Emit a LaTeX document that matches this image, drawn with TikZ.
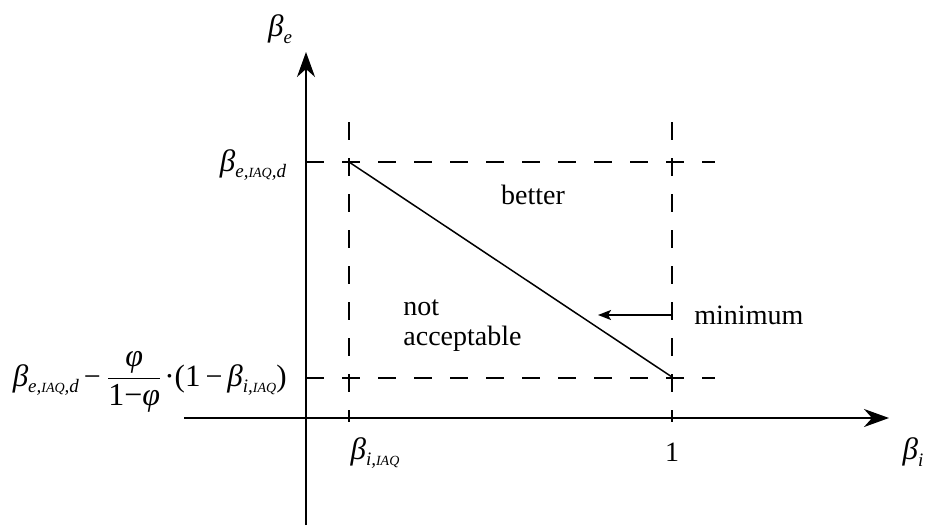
\documentclass[tikz,border=0pt]{standalone}
\usepackage{fontspec}
\setmainfont{Liberation Serif}
\usepackage{amsmath}
\usetikzlibrary{arrows.meta}
\newcommand\gB{\mbox{\fontsize{15.5}{18}\selectfont\itshape β}}
\newcommand\gP{\mbox{\fontsize{16}{18}\selectfont\itshape φ}}
\newcommand\iaqs{{\fontsize{7}{8}\selectfont IAQ}}
\newcommand\subt[1]{\raisebox{-0.5ex}{\fontsize{9.5}{10}\selectfont\itshape #1}}
\newcommand\mn{\mbox{\fontsize{15}{18}\selectfont\hspace{2.5pt}−\hspace{2.5pt}}}
\begin{document}
\begin{tikzpicture}[x=0.5pt,y=-0.5pt,
  every node/.style={font=\fontsize{14}{16}\selectfont, inner sep=0pt},
  axis/.style={line width=1pt,-{Stealth[length=12.5pt,width=9pt,inset=4pt]}},
  guide/.style={line width=1pt,dash pattern=on 9pt off 9pt},
  bound/.style={line width=0.75pt},
  pointer/.style={line width=1pt,-{Stealth[length=6.5pt,width=5pt,inset=1.5pt]}}]
\useasboundingbox (0,0) rectangle (926,525);
% axes
\coordinate (ybot) at (306,525);
\coordinate (ytop) at (306,52);
\coordinate (xleft) at (184,418);
\coordinate (xright) at (889,418);
\draw[axis] (ybot) -- (ytop);
\draw[axis] (xleft) -- (xright);
% guides
\coordinate (v1t) at (349,122); \coordinate (v1b) at (349,422);
\coordinate (v2t) at (672,122); \coordinate (v2b) at (672,422);
\coordinate (h1l) at (306,162); \coordinate (h1r) at (715,162);
\coordinate (h2l) at (306,378); \coordinate (h2r) at (715,378);
\draw[guide] (v1t) -- (v1b);
\draw[guide] (v2t) -- (v2b);
\draw[guide] (h1l) -- (h1r);
\draw[guide] (h2l) -- (h2r);
% boundary line
\coordinate (pA) at (349,162);
\coordinate (pB) at (672,377);
\draw[bound] (pA) -- (pB);
% pointer
\coordinate (mstart) at (672,315);
\coordinate (mend) at (598,315);
\draw[pointer] (mstart) -- (mend);
% labels
\node (lbe) at (280,29) {\gB\subt{e}};
\node (lbeiaq) at (253,165) {\gB\subt{e,\iaqs,d}};
\node[anchor=east] (lbig) at (287,382) {$\gB\subt{e,\iaqs,d}\mn\dfrac{\gP}{\mbox{\fontsize{16}{18}\selectfont 1−\itshape φ}}\mbox{\fontsize{15.5}{18}\selectfont\hspace{1pt}·(1}\mn\gB\subt{i,\iaqs}\mbox{\fontsize{15.5}{18}\selectfont )}$};
\node (lbiiaq) at (375,453) {\gB\subt{i,\iaqs}};
\node (lone) at (672,452) {1};
\node (lbi) at (913,452) {\gB\subt{i}};
\node (lbetter) at (533,195) {better};
\node[anchor=base west] (lnot) at (403,315) {not};
\node[anchor=base west] (lacc) at (403,345) {acceptable};
\node[anchor=base west] (lmin) at (694,324) {minimum};
\end{tikzpicture}
\end{document}
